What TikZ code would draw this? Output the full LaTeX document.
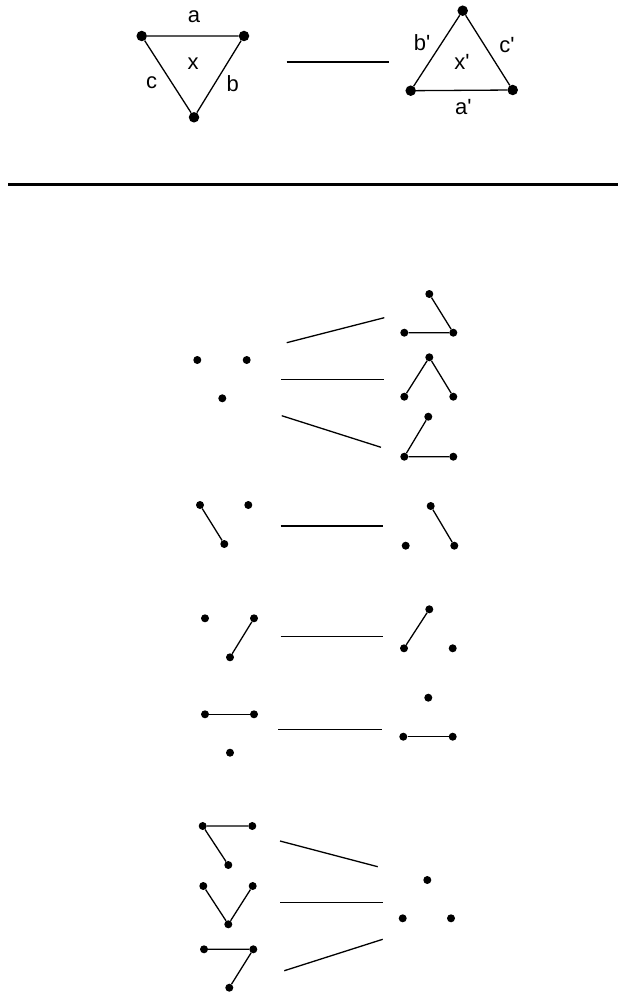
\documentclass[tikz,border=0pt]{standalone}
\usepackage{fontspec}
\setmainfont{Liberation Sans}
\begin{document}
\begin{tikzpicture}[x=1pt,y=-1pt,
  dot/.style={circle,fill=black,inner sep=0pt,minimum size=8pt},
  bigdot/.style={circle,fill=black,inner sep=0pt,minimum size=10.5pt},
  edge/.style={line width=1.3pt},
  conn/.style={line width=1.3pt},
  lab/.style={inner sep=0pt,font=\fontsize{22}{26}\selectfont}]
\useasboundingbox (0,0) rectangle (618,992);
% top triangles
\node[bigdot] (t1) at (141.7,36) {};
\node[bigdot] (t2) at (244,36) {};
\node[bigdot] (t3) at (194,117.3) {};
\draw[edge] (t1) -- (t2) -- (t3) -- (t1);
\node[lab] (la) at (194,17) {a};
\node[lab] (lx) at (193,64) {x};
\node[lab] (lc) at (151.7,83) {c};
\node[lab] (lb) at (232.7,84) {b};
\coordinate (m1) at (286.7,62);
\coordinate (m2) at (389.3,62);
\draw[conn] (m1) -- (m2);
\node[bigdot] (s1) at (462.7,10.7) {};
\node[bigdot] (s2) at (410.7,90.7) {};
\node[bigdot] (s3) at (512.7,90) {};
\draw[edge] (s1) -- (s2) -- (s3) -- (s1);
\node[lab] (lb2) at (422,43) {b\textquotesingle};
\node[lab] (lc2) at (507,45) {c\textquotesingle};
\node[lab] (lx2) at (462,62) {x\textquotesingle};
\node[lab] (la2) at (463.3,107) {a\textquotesingle};
% rule
\coordinate (r1) at (8,184.7);
\coordinate (r2) at (618,184.7);
\draw[line width=3.5pt] (r1) -- (r2);
% group 1
\node[dot] (g1a) at (197.3,360) {};
\node[dot] (g1b) at (246.7,360) {};
\node[dot] (g1c) at (222.3,398.3) {};
\coordinate (c1a) at (286.7,342.7); \coordinate (c1b) at (384.3,317.7);
\coordinate (c2a) at (281,379.3); \coordinate (c2b) at (384.3,379.3);
\coordinate (c3a) at (281.7,415.7); \coordinate (c3b) at (381,447.3);
\draw[conn] (c1a) -- (c1b);
\draw[conn] (c2a) -- (c2b);
\draw[conn] (c3a) -- (c3b);
\node[dot] (h1t) at (429.3,294) {};
\node[dot] (h1l) at (404.3,332.7) {};
\node[dot] (h1r) at (453.3,332.7) {};
\draw[edge] (h1t) -- (h1r) -- (h1l);
\node[dot] (h2t) at (429.3,357.3) {};
\node[dot] (h2l) at (404.3,396.7) {};
\node[dot] (h2r) at (453.3,396.7) {};
\draw[edge] (h2l) -- (h2t) -- (h2r);
\node[dot] (h3t) at (428.3,416.7) {};
\node[dot] (h3l) at (404.3,456.7) {};
\node[dot] (h3r) at (453.3,456.7) {};
\draw[edge] (h3t) -- (h3l) -- (h3r);
% group 2 row A
\node[dot] (a1) at (200,505) {};
\node[dot] (a2) at (248.3,505) {};
\node[dot] (a3) at (224.3,544) {};
\draw[edge] (a1) -- (a3);
\coordinate (ca1) at (280.7,526); \coordinate (ca2) at (383.3,526);
\draw[conn] (ca1) -- (ca2);
\node[dot] (a4) at (430.7,506) {};
\node[dot] (a5) at (405.7,545.7) {};
\node[dot] (a6) at (454.3,545.7) {};
\draw[edge] (a4) -- (a6);
% row B
\node[dot] (b1) at (205,618.3) {};
\node[dot] (b2) at (254,618.3) {};
\node[dot] (b3) at (230,657.3) {};
\draw[edge] (b2) -- (b3);
\coordinate (cb1) at (280.7,636.7); \coordinate (cb2) at (383.3,636.7);
\draw[conn] (cb1) -- (cb2);
\node[dot] (b4) at (429.3,609.3) {};
\node[dot] (b5) at (404,648.3) {};
\node[dot] (b6) at (452.7,648.3) {};
\draw[edge] (b4) -- (b5);
% row C
\node[dot] (d1) at (205,714.3) {};
\node[dot] (d2) at (254,714.3) {};
\node[dot] (d3) at (230,752.7) {};
\draw[edge] (d1) -- (d2);
\coordinate (cd1) at (278.3,729.3); \coordinate (cd2) at (381.7,729.3);
\draw[conn] (cd1) -- (cd2);
\node[dot] (d4) at (428.3,697.7) {};
\node[dot] (d5) at (403.3,736.7) {};
\node[dot] (d6) at (452.7,736.7) {};
\draw[edge] (d5) -- (d6);
% group 3
\node[dot] (e1) at (202.7,826) {};
\node[dot] (e2) at (252.3,826) {};
\node[dot] (e3) at (228.3,865) {};
\draw[edge] (e2) -- (e1) -- (e3);
\node[dot] (f1) at (203.3,886) {};
\node[dot] (f2) at (252.7,886) {};
\node[dot] (f3) at (228.3,924.3) {};
\draw[edge] (f1) -- (f3) -- (f2);
\node[dot] (k1) at (204,949.3) {};
\node[dot] (k2) at (253.3,949.3) {};
\node[dot] (k3) at (229.3,987.7) {};
\draw[edge] (k1) -- (k2) -- (k3);
\coordinate (ce1) at (280,841); \coordinate (ce2) at (377.7,866.7);
\coordinate (cf1) at (280.3,902.7); \coordinate (cf2) at (383.3,902.7);
\coordinate (ck1) at (284.3,970.7); \coordinate (ck2) at (382.7,939.3);
\draw[conn] (ce1) -- (ce2);
\draw[conn] (cf1) -- (cf2);
\draw[conn] (ck1) -- (ck2);
\node[dot] (z1) at (427.3,880) {};
\node[dot] (z2) at (402.7,918.3) {};
\node[dot] (z3) at (451,918.3) {};
\end{tikzpicture}
\end{document}
